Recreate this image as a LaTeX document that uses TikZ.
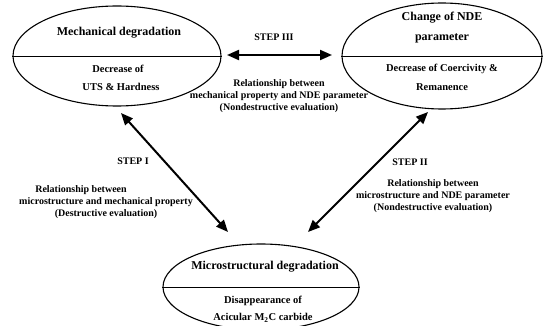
\documentclass[tikz,border=0pt]{standalone}
\usepackage{fontspec}
\setmainfont{Liberation Serif}
\usetikzlibrary{shapes.geometric,arrows.meta}
\begin{document}
\begin{tikzpicture}[x=1pt,y=-1pt,
  oval/.style={draw, ellipse, line width=1.1pt, inner sep=0pt},
  divider/.style={line width=0.8pt},
  title/.style={font=\fontsize{12}{14}\selectfont\bfseries, inner sep=0pt},
  sub/.style={font=\fontsize{10.5}{12.5}\selectfont\bfseries, inner sep=0pt},
  steplabel/.style={font=\fontsize{10}{12}\selectfont\bfseries, inner sep=0pt},
  lab/.style={font=\fontsize{10}{12}\selectfont\bfseries, align=center, inner sep=0pt},
  biarrow/.style={line width=2pt, {Triangle[length=12pt,width=10pt]}-{Triangle[length=12pt,width=10pt]}}]
\useasboundingbox (0,0) rectangle (548,326);
\clip (0,0) rectangle (548,326);

% ellipses
\node[oval, minimum width=208pt, minimum height=100pt] (mech) at (117,56) {};
\node[oval, minimum width=200pt, minimum height=106pt] (nde) at (442,56) {};
\node[oval, minimum width=196pt, minimum height=86pt] (micro) at (261,287) {};
\draw[divider] (mech.west) -- (mech.east);
\draw[divider] (nde.west) -- (nde.east);
\draw[divider] (micro.west) -- (micro.east);

% ellipse texts
\node[title] (mt) at (119,33) {Mechanical degradation};
\node[sub] (ms1) at (118,69) {Decrease of};
\node[sub] (ms2) at (121,87) {UTS \& Hardness};

\node[title] (nt1) at (442,18) {Change of NDE};
\node[title] (nt2) at (442,38) {parameter};
\node[sub] (ns1) at (442,69) {Decrease of Coercivity \&};
\node[sub] (ns2) at (442,87) {Remanence};

\node[title] (ct) at (265,267) {Microstructural degradation};
\node[sub] (cs1) at (263,301) {Disappearance of};
\node[sub] (cs2) at (263,318) {Acicular M\textsubscript{2}C carbide};

% arrow end points
\coordinate (a3l) at (227,55);
\coordinate (a3r) at (332,55);
\coordinate (a1t) at (121,113);
\coordinate (a1b) at (228,232);
\coordinate (a2t) at (428,112);
\coordinate (a2b) at (308,232);

\draw[biarrow] (a3l) -- (a3r);
\draw[biarrow] (a1t) -- (a1b);
\draw[biarrow] (a2t) -- (a2b);

% labels
\node[steplabel] (s3) at (274,37) {STEP III};
\node[lab] (r3) at (279,96) {Relationship between\\mechanical property and NDE parameter\\(Nondestructive evaluation)};

\node[steplabel] (s1) at (133,161) {STEP I};
\node[lab] (r1) at (106,202) {Relationship between\hspace*{50pt}\\microstructure and mechanical property\\(Destructive evaluation)};

\node[steplabel] (s2) at (410,162) {STEP II};
\node[lab] (r2) at (433,196) {Relationship between\\microstructure and NDE parameter\\(Nondestructive evaluation)};
\end{tikzpicture}
\end{document}
